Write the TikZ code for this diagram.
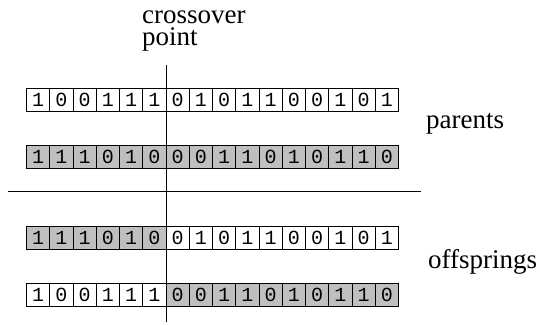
\documentclass[tikz,border=0pt]{standalone}
\usepackage{fontspec}
\setmainfont{Liberation Serif}
\setmonofont{Liberation Mono}
\begin{document}
\begin{tikzpicture}[x=1pt,y=-1pt,
  bitcell/.style={draw=black,line width=0.8pt,minimum width=23.25pt,minimum height=23pt,inner sep=0pt,anchor=north west,font=\fontsize{20}{20}\ttfamily},
  plain/.style={bitcell,fill=white},
  shaded/.style={bitcell,fill=black!25},
  lbl/.style={font=\fontsize{27}{27}\selectfont,anchor=base west,inner sep=0pt},
  rule/.style={line width=0.9pt}]
\useasboundingbox (0,0) rectangle (540,324);
% row 1: parent 1
\foreach \b [count=\i] in {1,0,0,1,1,1,0,1,0,1,1,0,0,1,0,1}
  \node[plain] (a\i) at ({26+23.25*(\i-1)},88) {\b};
% row 2: parent 2
\foreach \b [count=\i] in {1,1,1,0,1,0,0,0,1,1,0,1,0,1,1,0}
  \node[shaded] (b\i) at ({26+23.25*(\i-1)},145) {\b};
% row 3: offspring 1
\foreach \b/\s [count=\i] in {1/shaded,1/shaded,1/shaded,0/shaded,1/shaded,0/shaded,0/plain,1/plain,0/plain,1/plain,1/plain,0/plain,0/plain,1/plain,0/plain,1/plain}
  \node[\s] (c\i) at ({26+23.25*(\i-1)},226) {\b};
% row 4: offspring 2
\foreach \b/\s [count=\i] in {1/plain,0/plain,0/plain,1/plain,1/plain,1/plain,0/shaded,0/shaded,1/shaded,1/shaded,0/shaded,1/shaded,0/shaded,1/shaded,1/shaded,0/shaded}
  \node[\s] (d\i) at ({26+23.25*(\i-1)},283) {\b};
% lines
\coordinate (vtop) at (166,65);
\coordinate (vbot) at (166,322);
\coordinate (hl) at (8,191);
\coordinate (hr) at (421,191);
\draw[rule] (vtop) -- (vbot);
\draw[rule] (hl) -- (hr);
% labels
\node[lbl] (cross) at (142,23) {crossover};
\node[lbl] (point) at (142,45) {point};
\node[lbl] (par) at (426,128) {parents};
\node[lbl] (off) at (428,268) {offsprings};
\end{tikzpicture}
\end{document}
